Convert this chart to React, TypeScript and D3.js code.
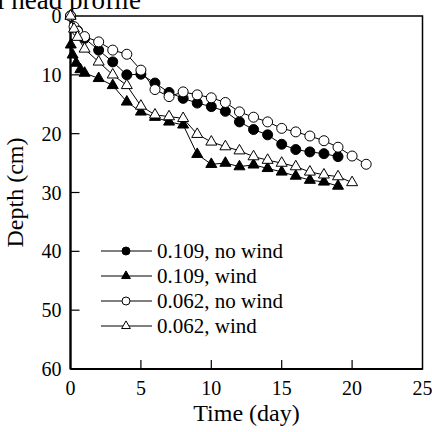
import React, { useEffect, useRef } from 'react';
import * as d3 from 'd3';

const WIDTH = 432;
const HEIGHT = 432;
const MARGIN = { top: 16, right: 9.5, bottom: 63, left: 70.5 };
const FONT = '"Liberation Serif", "Times New Roman", serif';

// 0.109, no wind (filled circle)
const daysA = [0, 0.5, 1, 2, 3, 4, 5, 6, 7, 8, 9, 10, 11, 12, 13, 14, 15, 16, 17, 18, 19];
const depthA = [0, 2.5, 3.8, 5.8, 7.8, 10.0, 9.9, 11.4, 13.0, 14.0, 14.8, 15.4, 16.2, 18.0, 19.3, 20.2, 21.8, 22.7, 23.1, 23.4, 23.9];
// 0.109, wind (filled triangle)
const daysB = [0, 0.02, 0.15, 0.4, 0.7, 1, 2, 3, 4, 5, 6, 7, 8, 9, 10, 11, 12, 13, 14, 15, 16, 17, 18, 19];
const depthB = [0, 4.9, 6.6, 8.0, 9.1, 9.7, 10.6, 11.8, 14.6, 16.3, 17.2, 18.0, 18.5, 23.5, 25.2, 25.0, 25.6, 25.3, 25.9, 26.5, 27.2, 27.9, 28.2, 28.9];
// 0.062, no wind (open circle)
const daysC = [0, 0.25, 0.5, 1, 2, 3, 4, 5, 6, 7, 8, 9, 10, 11, 12, 13, 14, 15, 16, 17, 18, 19, 20, 21];
const depthC = [0, 1.8, 2.6, 3.5, 4.4, 5.8, 6.5, 9.2, 12.5, 13.7, 12.9, 13.4, 13.9, 14.7, 16.3, 17.2, 18.0, 19.1, 19.7, 20.4, 21.2, 22.3, 23.8, 25.2];
// 0.062, wind (open triangle)
const daysD = [0, 0.25, 0.5, 1, 2, 3, 4, 5, 6, 7, 8, 9, 10, 11, 12, 13, 14, 15, 16, 17, 18, 19, 20];
const depthD = [0, 2.2, 3.6, 5.6, 7.8, 10.0, 11.8, 15.3, 16.8, 17.1, 17.4, 20.1, 21.4, 22.2, 22.9, 23.9, 24.5, 25.0, 25.6, 26.5, 27.0, 27.3, 28.3];

const seriesLabels = ['0.109, no wind', '0.109, wind', '0.062, no wind', '0.062, wind'];
const xTicks = [0, 5, 10, 15, 20, 25];
const yTicks = [0, 10, 20, 30, 40, 50, 60];

const series = [
    { days: daysA, depth: depthA, shape: 'circle', filled: true },
    { days: daysB, depth: depthB, shape: 'triangle', filled: true },
    { days: daysC, depth: depthC, shape: 'circle', filled: false },
    { days: daysD, depth: depthD, shape: 'triangle', filled: false },
];

export default function App() {
    const ref = useRef<SVGSVGElement>(null);

    useEffect(() => {
        const svg = d3.select(ref.current);
        svg.selectAll('*').remove();
        const w = WIDTH - MARGIN.left - MARGIN.right;
        const h = HEIGHT - MARGIN.top - MARGIN.bottom;
        const x = d3.scaleLinear().domain([0, 25]).range([0, w]);
        const y = d3.scaleLinear().domain([0, 60]).range([0, h]);

        // title, cropped at the top edge as in the source figure
        svg.append('text')
            .attr('x', 141).attr('y', 9)
            .attr('text-anchor', 'end')
            .attr('font-family', FONT).attr('font-size', 27)
            .text('Total head profile');

        const g = svg.append('g').attr('transform', `translate(${MARGIN.left},${MARGIN.top})`);

        // frame
        g.append('rect').attr('width', w).attr('height', h)
            .attr('fill', 'none').attr('stroke', '#000').attr('stroke-width', 1.5);
        g.append('line').attr('x1', 0).attr('x2', 0).attr('y1', 0).attr('y2', h)
            .attr('stroke', '#000').attr('stroke-width', 2.2);
        g.append('line').attr('x1', 0).attr('x2', w).attr('y1', h).attr('y2', h)
            .attr('stroke', '#000').attr('stroke-width', 2.2);

        // ticks (inward)
        g.selectAll('.xt').data(xTicks.slice(1, -1)).enter().append('line')
            .attr('x1', d => x(d)).attr('x2', d => x(d)).attr('y1', h).attr('y2', h - 9)
            .attr('stroke', '#000').attr('stroke-width', 1.2);
        g.selectAll('.yt').data(yTicks.slice(1, -1)).enter().append('line')
            .attr('x1', 0).attr('x2', 9).attr('y1', d => y(d)).attr('y2', d => y(d))
            .attr('stroke', '#000').attr('stroke-width', 1.2);

        g.selectAll('.xl').data(xTicks).enter().append('text')
            .attr('x', d => x(d)).attr('y', h + 26)
            .attr('text-anchor', 'middle')
            .attr('font-family', FONT).attr('font-size', 20)
            .text(d => d);
        g.selectAll('.yl').data(yTicks).enter().append('text')
            .attr('x', -9).attr('y', d => y(d) + 7)
            .attr('text-anchor', 'end')
            .attr('font-family', FONT).attr('font-size', 20)
            .text(d => d);

        g.append('text')
            .attr('x', w / 2).attr('y', h + 52)
            .attr('text-anchor', 'middle')
            .attr('font-family', FONT).attr('font-size', 24)
            .text('Time (day)');
        g.append('text')
            .attr('transform', `translate(${-48},${h / 2}) rotate(-90)`)
            .attr('text-anchor', 'middle')
            .attr('font-family', FONT).attr('font-size', 24)
            .text('Depth (cm)');

        const tri = d3.symbol().type(d3.symbolTriangle);
        const drawMarker = (sel: any, s: any, size: number) => {
            if (s.shape === 'circle') {
                sel.append('circle').attr('r', size)
                    .attr('fill', s.filled ? '#000' : '#fff')
                    .attr('stroke', '#000').attr('stroke-width', 1);
            } else {
                const side = size * 2.2;
                sel.append('path').attr('d', tri.size(Math.sqrt(3) / 4 * side * side)())
                    .attr('fill', s.filled ? '#000' : '#fff')
                    .attr('stroke', '#000').attr('stroke-width', 1);
            }
        };

        series.forEach((s) => {
            const pts = s.days.map((d, i) => [x(d), y(s.depth[i])] as [number, number]);
            g.append('path')
                .attr('d', d3.line()(pts))
                .attr('fill', 'none').attr('stroke', '#000').attr('stroke-width', 1);
            pts.forEach((p) => {
                const m = g.append('g').attr('transform', `translate(${p[0]},${p[1]})`);
                drawMarker(m, s, 5);
            });
        });

        // legend
        const lg = svg.append('g');
        series.forEach((s, i) => {
            const ly = 251 + i * 25;
            lg.append('line').attr('x1', 101).attr('x2', 152).attr('y1', ly).attr('y2', ly)
                .attr('stroke', '#000').attr('stroke-width', 1);
            const m = lg.append('g').attr('transform', `translate(126,${ly})`);
            drawMarker(m, s, 4);
            lg.append('text').attr('x', 157).attr('y', ly + 7)
                .attr('font-family', FONT).attr('font-size', 21)
                .text(seriesLabels[i]);
        });
    }, []);

    return (
        <svg
            ref={ref}
            width={WIDTH}
            height={HEIGHT}
            style={{ position: 'absolute', left: 0, top: 0, background: '#fff' }}
            xmlns="http://www.w3.org/2000/svg"
        />
    );
}
